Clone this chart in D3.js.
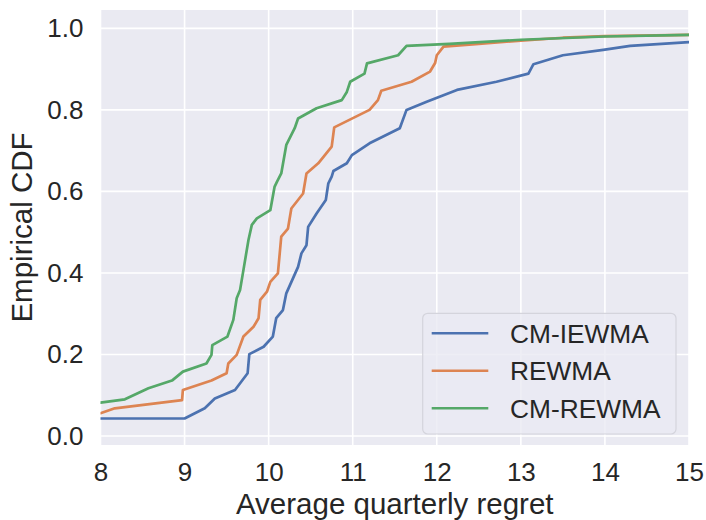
<!DOCTYPE html>
<html>
<head>
<meta charset="utf-8">
<script src="https://cdn.jsdelivr.net/npm/d3@7"></script>
<style>
  html, body { margin: 0; padding: 0; background: #ffffff; }
  svg { display: block; }
  text { font-family: "Liberation Sans", Arial, sans-serif; fill: #262626; }
</style>
</head>
<body>
<script>
// ---- data ----
const seriesNames = ["CM-IEWMA", "REWMA", "CM-REWMA"];
const seriesColors = ["#4C72B0", "#DD8452", "#55A868"];
const xTicks = [8, 9, 10, 11, 12, 13, 14, 15];
const yTicks = [0.0, 0.2, 0.4, 0.6, 0.8, 1.0];

const cmIewma = [[8.0,0.043],[9.0,0.043],[9.24,0.068],[9.36,0.092],[9.60,0.113],[9.75,0.154],[9.77,0.201],[9.94,0.219],[10.05,0.244],[10.09,0.289],[10.17,0.309],[10.21,0.350],[10.35,0.415],[10.39,0.448],[10.45,0.468],[10.47,0.513],[10.57,0.546],[10.68,0.579],[10.71,0.620],[10.75,0.636],[10.77,0.650],[10.93,0.669],[10.99,0.689],[11.20,0.718],[11.56,0.755],[11.64,0.800],[11.88,0.820],[12.24,0.849],[12.71,0.869],[13.09,0.889],[13.15,0.912],[13.50,0.934],[13.98,0.947],[14.30,0.957],[15.0,0.966]];
const rewma = [[8.0,0.056],[8.17,0.068],[8.97,0.088],[8.98,0.113],[9.32,0.136],[9.50,0.154],[9.52,0.178],[9.62,0.199],[9.70,0.244],[9.82,0.268],[9.88,0.289],[9.90,0.334],[9.98,0.354],[10.02,0.378],[10.11,0.399],[10.15,0.489],[10.23,0.509],[10.27,0.558],[10.41,0.595],[10.45,0.644],[10.59,0.669],[10.75,0.710],[10.78,0.757],[11.20,0.800],[11.30,0.824],[11.34,0.847],[11.70,0.869],[11.92,0.894],[11.98,0.915],[12.0,0.934],[12.08,0.955],[12.5,0.962],[13.0,0.970],[13.5,0.977],[14.0,0.981],[15.0,0.984]];
const cmRewma = [[8.0,0.082],[8.29,0.090],[8.57,0.117],[8.85,0.136],[8.98,0.158],[9.26,0.178],[9.32,0.199],[9.33,0.223],[9.51,0.244],[9.58,0.285],[9.62,0.338],[9.66,0.358],[9.70,0.407],[9.76,0.481],[9.80,0.518],[9.86,0.534],[10.02,0.554],[10.07,0.611],[10.10,0.624],[10.15,0.644],[10.21,0.714],[10.31,0.755],[10.35,0.779],[10.57,0.804],[10.87,0.824],[10.93,0.844],[10.97,0.869],[11.14,0.889],[11.17,0.914],[11.54,0.934],[11.64,0.957],[12.15,0.962],[13.0,0.972],[14.0,0.980],[15.0,0.984]];
const allSeries = [cmIewma, rewma, cmRewma];

// ---- layout ----
const W = 706, H = 520;
const m = { left: 100.5, top: 10, right: 17, bottom: 75 };
const pw = W - m.left - m.right, ph = H - m.top - m.bottom;

const svg = d3.select("body").append("svg").attr("width", W).attr("height", H);
const g = svg.append("g").attr("transform", `translate(${m.left},${m.top})`);

const x = d3.scaleLinear().domain([8, 15]).range([0, pw]);
const y = d3.scaleLinear().domain([-0.022, 1.045]).range([ph, 0]);

g.append("rect").attr("width", pw).attr("height", ph).attr("fill", "#EAEAF2");

// grid
g.append("g").selectAll("line").data(xTicks).join("line")
  .attr("x1", d => x(d)).attr("x2", d => x(d)).attr("y1", 0).attr("y2", ph)
  .attr("stroke", "#fff").attr("stroke-width", 1.6);
g.append("g").selectAll("line").data(yTicks).join("line")
  .attr("y1", d => y(d)).attr("y2", d => y(d)).attr("x1", 0).attr("x2", pw)
  .attr("stroke", "#fff").attr("stroke-width", 1.6);

// axes (tick labels only, seaborn style)
const xAxis = g.append("g").attr("transform", `translate(0,${ph})`)
  .call(d3.axisBottom(x).tickValues(xTicks).tickFormat(d3.format("d")).tickSize(0).tickPadding(18));
xAxis.select(".domain").remove();
xAxis.selectAll("text").attr("font-size", 26).attr("fill", "#262626")
  .style("font-family", "'Liberation Sans', Arial, sans-serif");

const yAxis = g.append("g")
  .call(d3.axisLeft(y).tickValues(yTicks).tickFormat(d3.format(".1f")).tickSize(0).tickPadding(17));
yAxis.select(".domain").remove();
yAxis.selectAll("text").attr("font-size", 26).attr("fill", "#262626")
  .style("font-family", "'Liberation Sans', Arial, sans-serif");

// clip
svg.append("defs").append("clipPath").attr("id", "clip")
  .append("rect").attr("width", pw).attr("height", ph);

const line = d3.line().x(d => x(d[0])).y(d => y(d[1]));
const lines = g.append("g").attr("clip-path", "url(#clip)");
allSeries.forEach((s, i) => {
  lines.append("path").datum(s).attr("d", line)
    .attr("fill", "none").attr("stroke", seriesColors[i])
    .attr("stroke-width", 2.7).attr("stroke-linejoin", "round").attr("stroke-linecap", "round");
});

// axis labels
svg.append("text").attr("x", m.left + pw / 2).attr("y", 514)
  .attr("text-anchor", "middle").attr("font-size", 29.5).text("Average quarterly regret");
svg.append("text").attr("transform", `translate(32,${m.top + ph / 2}) rotate(-90)`)
  .attr("text-anchor", "middle").attr("font-size", 29.5).text("Empirical CDF");

// legend
const lg = svg.append("g");
lg.append("rect").attr("x", 422.7).attr("y", 313.3).attr("width", 253.3).attr("height", 120.7)
  .attr("rx", 5).attr("fill", "#EAEAF2").attr("fill-opacity", 0.8)
  .attr("stroke", "#d4d4dc").attr("stroke-width", 1.2);
const rowY = [333.3, 370.8, 408.3];
seriesNames.forEach((name, i) => {
  lg.append("line").attr("x1", 431.7).attr("x2", 488.3).attr("y1", rowY[i]).attr("y2", rowY[i])
    .attr("stroke", seriesColors[i]).attr("stroke-width", 2.6);
  lg.append("text").attr("x", 510).attr("y", rowY[i]).attr("dy", "0.35em")
    .attr("font-size", 26.3).text(name);
});
</script>
</body>
</html>
